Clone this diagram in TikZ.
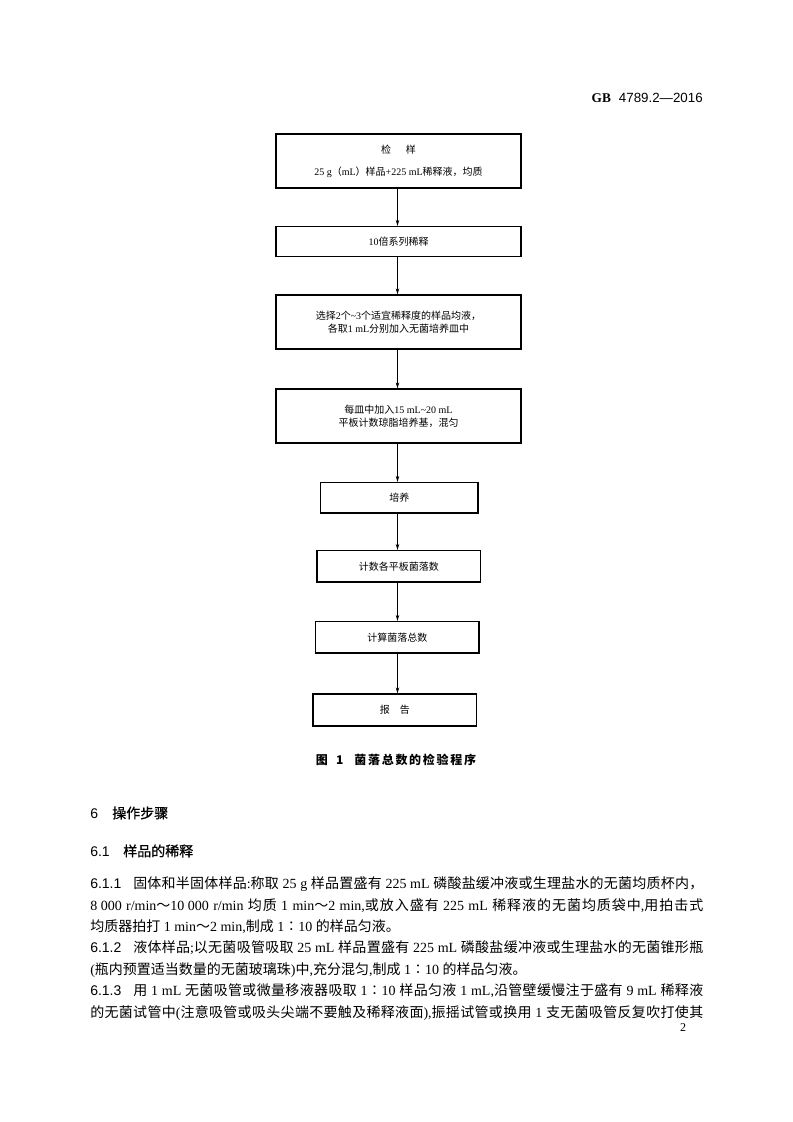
\documentclass[tikz,border=0pt]{standalone}
\usepackage{fontspec}
\setmainfont{Liberation Serif}
\setsansfont{Liberation Sans}
\newfontfamily\cjk{Noto Sans CJK SC}
\newfontfamily\cjkhei[FakeBold=0.7]{Noto Sans CJK SC}
\usetikzlibrary{arrows.meta}

\makeatletter
\newXeTeXintercharclass\cjkcls
\newcount\cjkn
\def\setcjkrange#1#2{\cjkn=#1\relax\loop\XeTeXcharclass\cjkn=\cjkcls\advance\cjkn by 1\relax\ifnum\cjkn<#2\relax\repeat}
\setcjkrange{"3000}{"3040}
\setcjkrange{"4E00}{"A000}
\setcjkrange{"FF00}{"FFF0}
\XeTeXcharclass"2236=\cjkcls
\def\cjksw{\cjk}
\def\latsw{\rmfamily}
\def\cjkglue{\hskip 0pt plus 1.5pt minus 0.5pt\relax}
\XeTeXinterchartokenstate=1
\XeTeXinterchartoks 0 \cjkcls = {\cjksw}
\XeTeXinterchartoks \e@alloc@intercharclass@top \cjkcls = {\cjksw}
\XeTeXinterchartoks \cjkcls 0 = {\latsw}
\XeTeXinterchartoks \cjkcls \e@alloc@intercharclass@top = {\latsw}
\XeTeXinterchartoks \cjkcls \cjkcls = {\cjkglue}
\makeatother

\newcommand\fcfont{\fontsize{7.5pt}{10pt}\selectfont}
\newcommand\fcfonttall{\fontsize{7.5pt}{16.3pt}\selectfont}
\newcommand\bodyfont{\fontsize{10.5pt}{12pt}\selectfont}
\newcommand\numfont{\fontsize{10.5pt}{12pt}\selectfont\sffamily}
\newcommand\headfont{\fontsize{10.5pt}{12pt}\selectfont\def\cjksw{}\def\latsw{}\cjkhei}

\tikzset{
  fcbox/.style={draw, line width=0.9pt, inner sep=0pt, align=center, font=\fcfont},
  widebox/.style={fcbox, minimum width=183.75pt},
  arr/.style={-{Stealth[length=4.5pt,width=2.6pt]}, line width=0.5pt},
  bodyline/.style={anchor=base west, inner sep=0pt, font=\bodyfont},
  headline/.style={anchor=base west, inner sep=0pt, font=\headfont},
  numlabel/.style={anchor=base west, inner sep=0pt, font=\numfont},
}

\begin{document}
\begin{tikzpicture}[x=0.75pt,y=-0.75pt]
\fill[white] (0,0) rectangle (793,1122);
\useasboundingbox (0,0) rectangle (793,1122);

% header
\node[anchor=base east, inner sep=0pt, font=\fontsize{10pt}{12pt}\selectfont] (hdr) at (703,102)
  {\textbf{GB}\hspace{0.6em}\sffamily 4789.2—2016};

% flowchart
\node[widebox, minimum height=40.5pt, font=\fcfonttall] (b1) at (398.5,161)
  {检\hspace{1.5em}样\\25 g（mL）样品+225 mL稀释液，均质};
\node[widebox, minimum height=22.5pt] (b2) at (398.5,241.5) {10倍系列稀释};
\node[widebox, minimum height=40.5pt] (b3) at (398.5,322)
  {选择2个\textasciitilde3个适宜稀释度的样品均液，\\各取1 mL分别加入无菌培养皿中};
\node[widebox, minimum height=40.5pt] (b4) at (398.5,416)
  {每皿中加入15 mL\textasciitilde20 mL\\平板计数琼脂培养基，混匀};
\node[fcbox, minimum width=118.1pt, minimum height=22.9pt] (b5) at (399.25,497.75) {培养};
\node[fcbox, minimum width=122.6pt, minimum height=23.6pt] (b6) at (398.75,566.25) {计数各平板菌落数};
\node[fcbox, minimum width=122.6pt, minimum height=23.6pt] (b7) at (397.25,637.25) {计算菌落总数};
\node[fcbox, minimum width=122.6pt, minimum height=24pt] (b8) at (394.75,710) {报　告};

\coordinate (ax) at (397.5,0);
\draw[arr] (b1.south -| ax) -- (b2.north -| ax);
\draw[arr] (b2.south -| ax) -- (b3.north -| ax);
\draw[arr] (b3.south -| ax) -- (b4.north -| ax);
\draw[arr] (b4.south -| ax) -- (b5.north -| ax);
\draw[arr] (b5.south -| ax) -- (b6.north -| ax);
\draw[arr] (b6.south -| ax) -- (b7.north -| ax);
\draw[arr] (b7.south -| ax) -- (b8.north -| ax);

% caption
\node[anchor=base, inner sep=0pt, font=\fontsize{9pt}{11pt}\selectfont] (cap) at (396,764.5)
  {\def\cjksw{}\def\latsw{}\def\cjkglue{\hskip 1.3pt\relax}\cjk\bfseries 图\hspace{0.7em}1\hspace{0.9em}菌落总数的检验程序};

% headings
\node[numlabel] (h6n) at (90,818.3) {6};
\node[headline] (h6t) at (112,818.3) {操作步骤};
\node[numlabel] (h61n) at (90,856.3) {6.1};
\node[headline] (h61t) at (123,856.3) {样品的稀释};

% body
\node[numlabel] (n611) at (90,888.3) {6.1.1};
\node[bodyline] (l1) at (133,888.3)
  {\makebox[427.5pt][s]{固体和半固体样品:称取 25 g 样品置盛有 225 mL 磷酸盐缓冲液或生理盐水的无菌均质杯内，}};
\node[bodyline] (l2) at (90,910.3)
  {\makebox[459.75pt][s]{8\kern.25em000 r/min～10\kern.25em000 r/min 均质 1 min～2 min,或放入盛有 225 mL 稀释液的无菌均质袋中,用拍击式}};
\node[bodyline] (l3) at (90,931.8)
  {均质器拍打 1 min～2 min,制成 1∶10 的样品匀液。};
\node[numlabel] (n612) at (90,952.8) {6.1.2};
\node[bodyline] (l4) at (133,952.8)
  {\makebox[427.5pt][s]{液体样品;以无菌吸管吸取 25 mL 样品置盛有 225 mL 磷酸盐缓冲液或生理盐水的无菌锥形瓶}};
\node[bodyline] (l5) at (90,974.3)
  {(瓶内预置适当数量的无菌玻璃珠)中,充分混匀,制成 1∶10 的样品匀液。};
\node[numlabel] (n613) at (90,995.8) {6.1.3};
\node[bodyline] (l6) at (133,995.8)
  {\makebox[427.5pt][s]{用 1 mL 无菌吸管或微量移液器吸取 1∶10 样品匀液 1 mL,沿管壁缓慢注于盛有 9 mL 稀释液}};
\node[bodyline] (l7) at (90,1017.5)
  {\makebox[459.75pt][s]{的无菌试管中(注意吸管或吸头尖端不要触及稀释液面),振摇试管或换用 1 支无菌吸管反复吹打使其}};

% page number
\node[anchor=base, inner sep=0pt, font=\fontsize{9pt}{11pt}\selectfont] (pg) at (683,1031) {2};
\end{tikzpicture}
\end{document}
